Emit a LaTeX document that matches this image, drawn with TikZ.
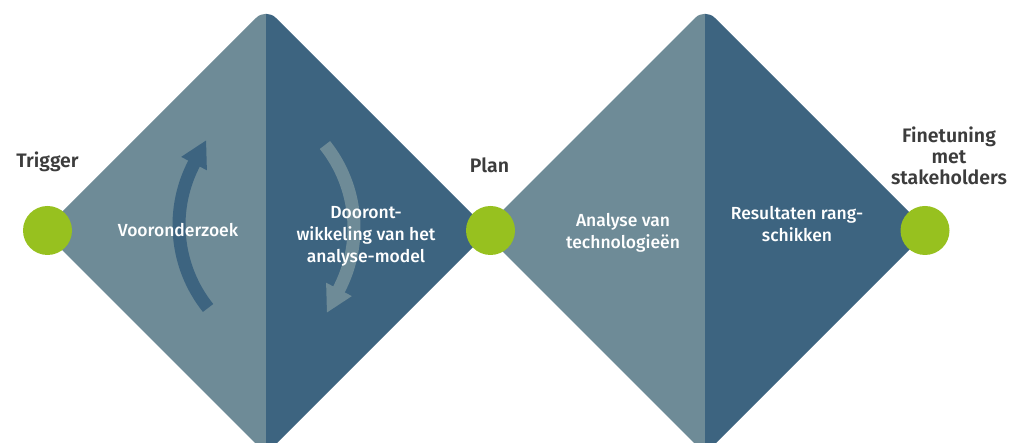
\documentclass[tikz,border=0pt]{standalone}
\usepackage{fontspec}
\setmainfont{Fira Sans}
\newfontfamily\medfont{Fira Sans Medium}
\newfontfamily\semifont{Fira Sans SemiBold}
\usetikzlibrary{calc}
\definecolor{lightblue}{HTML}{6E8B97}
\definecolor{darkblue}{HTML}{3D6480}
\definecolor{limegreen}{HTML}{97C11F}
\definecolor{labelgray}{HTML}{3C3C3C}
\begin{document}
\begin{tikzpicture}[x=1pt,y=1pt,
  innertext/.style={text=white, font=\medfont\fontsize{17.5}{22}\selectfont, align=center, inner sep=0pt},
  outertext/.style={text=labelgray, font=\semifont\fontsize{19.5}{21}\selectfont, align=center, inner sep=0pt},
  dot/.style={circle, fill=limegreen, minimum size=49pt, inner sep=0pt},
  arrowshaft/.style={line width=13pt},
]
\useasboundingbox (0,0) rectangle (1024,443);
% diamond 1
\begin{scope}
\clip[rounded corners=14pt] (266,435) -- (43,212) -- (266,-11) -- (489,212) -- cycle;
\fill[lightblue] (30,-20) rectangle (266,450);
\fill[darkblue] (266,-20) rectangle (500,450);
\end{scope}
% diamond 2
\begin{scope}
\clip[rounded corners=14pt] (705,435) -- (482,212) -- (705,-11) -- (928,212) -- cycle;
\fill[lightblue] (470,-20) rectangle (705,450);
\fill[darkblue] (705,-20) rectangle (940,450);
\end{scope}
% circular arrows
\coordinate (ca) at (312,218);
\coordinate (cb) at (221,215);
\draw[arrowshaft, darkblue] ($(ca)+(218.6:133)$) arc[start angle=218.6, end angle=151.5, radius=133];
\fill[darkblue] ($(ca)+(152.5:133)+(62.5:26)$) -- ($(ca)+(152.5:147.5)$) -- ($(ca)+(152.5:118.5)$) -- cycle;
\draw[arrowshaft, lightblue] ($(cb)+(38.6:133)$) arc[start angle=38.6, end angle=-28.5, radius=133];
\fill[lightblue] ($(cb)+(-27.5:133)+(-117.5:26)$) -- ($(cb)+(-27.5:147.5)$) -- ($(cb)+(-27.5:118.5)$) -- cycle;
% dots
\node[dot] (trigger) at (47.5,212.5) {};
\node[dot] (plan) at (490.5,212.5) {};
\node[dot] (fine) at (925,212.5) {};
% labels
\node[outertext] (ltrigger) at (47.5,281) {Trigger};
\node[outertext] (lplan) at (489.5,278) {Plan};
\node[outertext] (lfine) at (949,287) {Finetuning\\met\\stakeholders};
\node[innertext] (voor) at (178,213) {Vooronderzoek};
\node[innertext] (door) at (366,207) {Dooront-\\wikkeling van het\\analyse-model};
\node[innertext] (anal) at (623,210.5) {Analyse van\\technologieën};
\node[innertext] (res) at (797,218.5) {Resultaten rang-\\schikken};
\end{tikzpicture}
\end{document}
